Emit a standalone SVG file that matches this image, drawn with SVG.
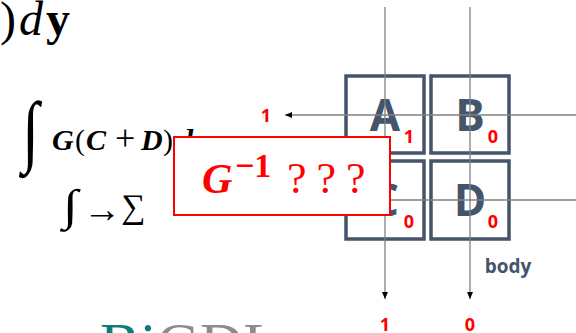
<svg xmlns="http://www.w3.org/2000/svg" width="576" height="333" viewBox="0 0 576 333">
<defs>
<marker id="ah" markerWidth="8" markerHeight="8" refX="7" refY="4" orient="auto" markerUnits="userSpaceOnUse">
<path d="M0,1 L7,4 L0,7 Z" fill="#000"/>
</marker>
<style>
.cell{fill:#fff;stroke:#44546A;stroke-width:3.5}
.lt{font-family:"Open Sans","Noto Sans",sans-serif;font-weight:bold;font-size:44px;fill:#44546A;text-anchor:middle}
.rn{font-family:"Open Sans","Noto Sans",sans-serif;font-weight:bold;font-size:18px;fill:#FF0000;text-anchor:middle}
.ln{stroke:#808080;stroke-width:1.3;fill:none}
.m{font-family:"Liberation Serif","DejaVu Serif",serif;fill:#000}
.bi{font-weight:bold;font-style:italic}
</style>
</defs>
<rect width="576" height="333" fill="#fff"/>
<g id="math">
<text class="m" font-size="48" y="35"><tspan x="0">)</tspan><tspan x="19" font-style="italic">d</tspan><tspan x="46" font-weight="bold">y</tspan></text>
<text class="m" font-size="44" transform="translate(22,157) scale(1.4,1.8)">∫</text>
<text class="m" font-size="30" y="150"><tspan x="52" class="bi">G</tspan><tspan x="75">(</tspan><tspan x="86" class="bi">C</tspan><tspan x="115" font-size="36">+</tspan><tspan x="141" class="bi">D</tspan><tspan x="163">)</tspan><tspan x="178" class="bi">d</tspan></text>
<text class="m" font-size="44" transform="translate(63,220) scale(1.25,1)">∫</text>
<text class="m" font-size="38" x="83" y="222">→</text>
<text class="m" font-size="34" x="121" y="218">∑</text>
</g>
<g id="logo">
<text x="100" y="364" font-family="Liberation Serif,serif" font-size="60"><tspan fill="#0E7C7B">Bi</tspan><tspan fill="#8C8C8C">GDL</tspan></text>
</g>
<g id="cell-A"><rect class="cell" x="346" y="76" width="78" height="77"/><text class="lt" x="385" y="131">A</text><text class="rn" x="409" y="143">1</text></g>
<g id="cell-B"><rect class="cell" x="431" y="76" width="78" height="77"/><text class="lt" x="470" y="131">B</text><text class="rn" x="493" y="143">0</text></g>
<g id="cell-C"><rect class="cell" x="346" y="161" width="78" height="78"/><text class="lt" x="385" y="216">C</text><text class="rn" x="409" y="228">0</text></g>
<g id="cell-D"><rect class="cell" x="431" y="161" width="78" height="78"/><text class="lt" x="470" y="216">D</text><text class="rn" x="493" y="228">0</text></g>
<g id="connectors">
<line class="ln" x1="385" y1="7" x2="385" y2="299" marker-end="url(#ah)"/>
<line class="ln" x1="470" y1="7" x2="470" y2="299" marker-end="url(#ah)"/>
<line class="ln" x1="576" y1="115" x2="285" y2="115" marker-end="url(#ah)"/>
<line class="ln" x1="576" y1="200" x2="340" y2="200"/>
</g>
<g id="labels">
<text class="rn" x="266" y="122">1</text>
<text class="rn" x="385" y="331">1</text>
<text class="rn" x="470" y="331">0</text>
<text x="508" y="273" font-family="Open Sans,Noto Sans,sans-serif" font-weight="bold" font-size="19" fill="#44546A" text-anchor="middle">body</text>
</g>
<g id="note">
<rect x="174" y="137" width="216" height="78" fill="#fff" stroke="#FF0000" stroke-width="2"/>
<text font-family="Liberation Serif,DejaVu Serif,serif" fill="#FF0000" y="193"><tspan x="202" font-size="42" class="bi">G</tspan><tspan x="235" y="177" font-size="34" font-weight="bold">−1</tspan><tspan x="287" y="193" font-size="44" letter-spacing="10">???</tspan></text>
</g>
</svg>
